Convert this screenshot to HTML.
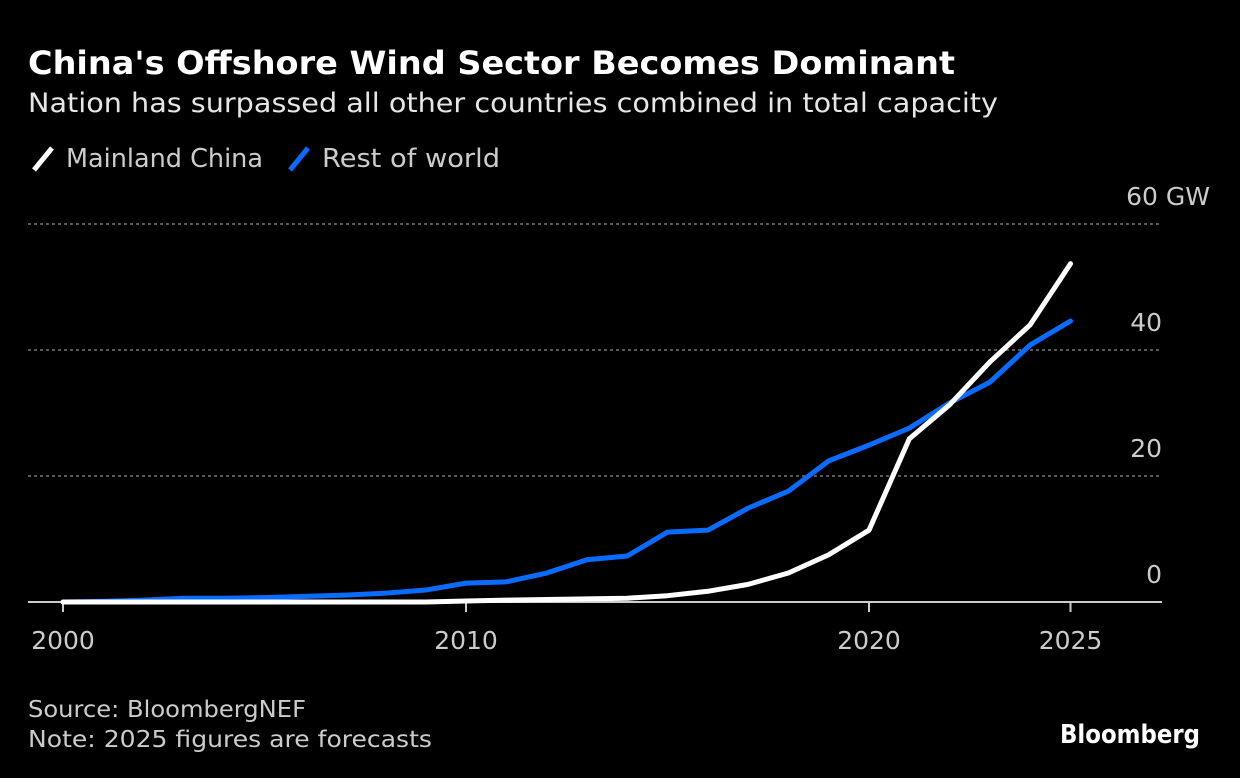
<!DOCTYPE html>
<html><head><meta charset="utf-8"><style>
html,body{margin:0;padding:0;background:#000;width:1240px;height:778px;overflow:hidden;font-family:"DejaVu Sans","Liberation Sans",sans-serif;}
svg text{font-family:"DejaVu Sans","Liberation Sans",sans-serif;}
</style></head><body>
<svg width="1240" height="778">
<text x="28" y="74" fill="#fff" font-size="32" font-weight="bold" textLength="927" lengthAdjust="spacingAndGlyphs">China's Offshore Wind Sector Becomes Dominant</text>
<text x="28" y="112" fill="#e6e6e6" font-size="27" textLength="970" lengthAdjust="spacingAndGlyphs">Nation has surpassed all other countries combined in total capacity</text>
<g>
<line x1="34" y1="170" x2="52" y2="148" stroke="#fff" stroke-width="5"/>
<text x="66" y="167" fill="#ccc" font-size="26" textLength="197" lengthAdjust="spacingAndGlyphs">Mainland China</text>
<line x1="290" y1="170" x2="308" y2="148" stroke="#0a6cff" stroke-width="5"/>
<text x="322" y="167" fill="#ccc" font-size="26" textLength="178" lengthAdjust="spacingAndGlyphs">Rest of world</text>
</g>
<g id="grid"></g><g id="lines"></g>
<text x="28" y="717" fill="#ccc" font-size="23" textLength="278" lengthAdjust="spacingAndGlyphs">Source: BloombergNEF</text>
<text x="28" y="747" fill="#ccc" font-size="23" textLength="404" lengthAdjust="spacingAndGlyphs">Note: 2025 figures are forecasts</text>
<text x="1060" y="743" fill="#fff" font-size="26" font-weight="bold" textLength="140" lengthAdjust="spacingAndGlyphs">Bloomberg</text>
</svg>
<script>
const years=[2000,2001,2002,2003,2004,2005,2006,2007,2008,2009,2010,2011,2012,2013,2014,2015,2016,2017,2018,2019,2020,2021,2022,2023,2024,2025];
const china=[0,0,0,0,0,0,0,0,0,0,0.15,0.3,0.4,0.5,0.6,1.0,1.7,2.8,4.6,7.5,11.4,25.9,31.3,38.1,44,53.7];
const rest=[0,0.1,0.3,0.6,0.6,0.7,0.9,1.1,1.4,1.9,3,3.2,4.6,6.7,7.3,11.1,11.4,14.9,17.6,22.4,24.9,27.6,31.6,34.9,40.8,44.6];
const yTicks=[0,20,40,60];
const xTicks=[2000,2010,2020,2025];
const NS='http://www.w3.org/2000/svg';
const x=v=>63+(v-2000)*40.3;
const y=v=>602-v*6.3;
const grid=document.getElementById('grid'),lines=document.getElementById('lines');
function mk(tag,attrs,parent,txt){const e=document.createElementNS(NS,tag);for(const k in attrs)e.setAttribute(k,attrs[k]);if(txt!==undefined)e.textContent=txt;parent.appendChild(e);return e;}
yTicks.forEach(t=>{
 if(t>0){const l=mk('line',{x1:28,x2:1162,y1:y(t),y2:y(t),stroke:'#777','stroke-width':1.5,'stroke-dasharray':'3,3'},grid);
 
 }
 const tx=mk('text',{x:t===60?1210:1162,y:y(t)-19,fill:'#ccc','font-size':25,'text-anchor':'end'},grid,t===60?'60 GW':String(t));
 
 
});
const base=mk('line',{x1:28,x2:1162,y1:y(0),y2:y(0),stroke:'#ccc','stroke-width':2},grid);


xTicks.forEach(t=>{
 const tk=mk('line',{x1:x(t),x2:x(t),y1:602,y2:612,stroke:'#ccc','stroke-width':2},grid);
 
 
 const tx=mk('text',{x:x(t),y:649,fill:'#ccc','font-size':25,'text-anchor':'middle'},grid,String(t));
 
 
});
function series(vals,color,name){
 const p=mk('polyline',{points:years.map((yr,i)=>x(yr)+','+y(vals[i])).join(' '),fill:'none',stroke:color,'stroke-width':5,'stroke-linejoin':'round','stroke-linecap':'round'},lines);
 
 
}
series(rest,'#0a6cff','rest-of-world-line');
series(china,'#ffffff','china-line');
</script>
</body></html>
